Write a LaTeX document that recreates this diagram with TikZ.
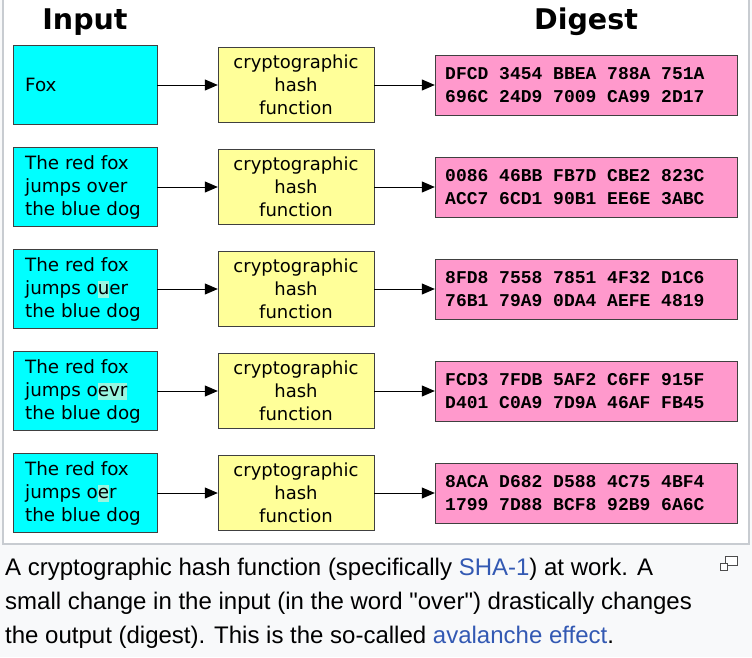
\documentclass[tikz,border=0pt]{standalone}
\usepackage{fontspec}
\setmainfont{DejaVu Sans}
\newfontfamily\capfont{Liberation Sans}
\newfontfamily\digfont{Liberation Mono}
\usetikzlibrary{arrows.meta}
\definecolor{inbg}{HTML}{00FFFF}
\definecolor{hashbg}{HTML}{FFFF99}
\definecolor{digbg}{HTML}{FF99CC}
\definecolor{hlc}{HTML}{99F5E0}
\definecolor{capbg}{HTML}{F8F9FA}
\definecolor{link}{HTML}{3359B3}
\definecolor{frame}{HTML}{C8CCD1}
\newcommand{\hlx}[1]{{\setlength\fboxsep{0pt}\colorbox{hlc}{\vphantom{Jg}#1}}}
\tikzset{
  inbox/.style={draw=black!75, fill=inbg, minimum width=144pt, minimum height=79pt, inner sep=0pt},
  intext/.style={anchor=west, align=left, font=\fontsize{18.3}{23}\selectfont, inner sep=0pt},
  hashbox/.style={draw=black!75, fill=hashbg, minimum width=156pt, minimum height=75pt, align=center, font=\fontsize{18}{23}\selectfont, inner sep=0pt},
  digbox/.style={draw=black!75, fill=digbg, minimum width=302pt, minimum height=60pt, inner sep=0pt},
  digtext/.style={anchor=west, align=left, font=\digfont\bfseries\fontsize{18}{23}\selectfont, inner sep=0pt},
  arr/.style={-{Triangle[length=13pt,width=11pt]}, line width=1pt},
  title/.style={font=\bfseries\fontsize{28.5}{30}\selectfont}
}
\begin{document}
\begin{tikzpicture}[x=1pt,y=-1pt]
\useasboundingbox (0,0) rectangle (752,657);
\fill[capbg] (0,0) rectangle (752,657);
\fill[white] (3,0) rectangle (749,544);
\draw[frame, line width=2pt] (3,-2) -- (3,544) -- (749,544) -- (749,-2);
\node[title] (tin) at (85,22) {Input};
\node[title] (tdg) at (586,22) {Digest};
\foreach \i/\txt/\dA/\dB in {
 0/{Fox}/{DFCD 3454 BBEA 788A 751A}/{696C 24D9 7009 CA99 2D17},
 1/{The red fox\\jumps over\\the blue dog}/{0086 46BB FB7D CBE2 823C}/{ACC7 6CD1 90B1 EE6E 3ABC},
 2/{The red fox\\jumps o\hlx{u}er\\the blue dog}/{8FD8 7558 7851 4F32 D1C6}/{76B1 79A9 0DA4 AEFE 4819},
 3/{The red fox\\jumps o\hlx{evr}\\the blue dog}/{FCD3 7FDB 5AF2 C6FF 915F}/{D401 C0A9 7D9A 46AF FB45},
 4/{The red fox\\jumps o\hlx{e}r\\the blue dog}/{8ACA D682 D588 4C75 4BF4}/{1799 7D88 BCF8 92B9 6A6C}}{
  \pgfmathsetmacro{\yy}{85+102*\i}
  \node[inbox] (in\i) at (85,\yy) {};
  \node[intext] (it\i) at (25,\yy) {\txt};
  \node[hashbox] (h\i) at (296,\yy) {cryptographic\\hash\\function};
  \node[digbox] (d\i) at (586,\yy) {};
  \node[digtext] (dt\i) at (445,\yy) {\dA\\\dB};
  \draw[arr] (in\i) -- (h\i);
  \draw[arr] (h\i) -- (d\i);
}
\node[anchor=north west, align=left, inner sep=0pt, font=\capfont\fontsize{24}{34}\selectfont] (cap) at (5,558)
 {A cryptographic hash function (specifically \textcolor{link}{SHA-1}) at work. A\\
  small change in the input (in the word "over") drastically changes\\
  the output (digest). This is the so-called \textcolor{link}{avalanche effect}.};
\draw[black!70, line width=1pt, fill=white] (725,556) rectangle (737,565);
\draw[black!70, line width=1pt, fill=white] (720,563) rectangle (727,570);
\end{tikzpicture}
\end{document}
